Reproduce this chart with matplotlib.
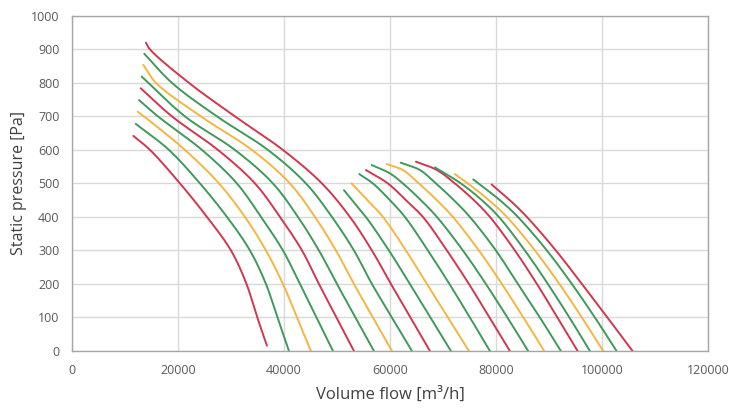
import matplotlib.pyplot as plt
import numpy as np

# fan curves (flow in m3/h, pressure in Pa)
flows = [
    [11570, 14720, 20380, 25470, 30000, 32930, 34960, 36790],
    [12020, 18300, 24150, 29250, 33580, 36600, 38770, 40940],
    [12400, 13580, 21320, 27740, 32640, 36600, 39810, 42450, 45090],
    [12640, 16230, 24530, 31120, 35660, 39810, 43020, 46140, 49250],
    [12960, 18870, 27550, 34530, 39250, 43400, 46600, 49910, 53210],
    [13150, 21320, 30750, 37920, 42640, 46600, 50000, 53490, 56980],
    [13450, 15850, 24340, 33960, 41130, 45850, 49810, 53210, 56790, 60380],
    [13640, 18870, 27360, 36980, 44150, 49060, 53210, 56600, 60380, 64150],
    [13960, 14720, 22080, 30760, 39810, 47170, 52450, 56600, 60190, 63870, 67550],
    [51320, 53400, 55470, 59810, 63770, 67640, 71510],
    [52770, 55750, 58680, 63020, 66980, 70940, 74910],
    [54210, 56790, 60000, 62830, 67170, 71230, 75090, 78870],
    [55470, 59620, 63020, 66230, 70750, 74910, 78770, 82640],
    [56550, 60000, 62450, 65850, 68870, 73770, 78110, 82170, 86090],
    [59380, 62450, 65470, 68870, 71890, 76790, 81130, 85190, 89110],
    [62020, 65660, 68680, 72080, 75090, 80000, 84150, 88300, 92260],
    [64910, 68870, 72260, 75850, 78870, 83580, 87740, 91600, 95420],
    [68490, 73400, 77360, 80570, 85470, 89810, 93870, 97740],
    [72260, 74720, 78680, 82080, 87360, 91980, 96230, 100250],
    [75720, 76700, 80760, 84150, 89620, 94340, 98680, 102770],
    [79190, 82640, 85850, 91320, 96230, 101040, 105790],
]
pressures = [
    [642, 600, 500, 400, 300, 200, 100, 16],
    [678, 600, 500, 400, 300, 200, 100, 0],
    [714, 700, 600, 500, 400, 300, 200, 100, 0],
    [749, 700, 600, 500, 400, 300, 200, 100, 0],
    [784, 700, 600, 500, 400, 300, 200, 100, 0],
    [819, 700, 600, 500, 400, 300, 200, 100, 0],
    [854, 800, 700, 600, 500, 400, 300, 200, 100, 0],
    [887, 800, 700, 600, 500, 400, 300, 200, 100, 0],
    [920, 900, 800, 700, 600, 500, 400, 300, 200, 100, 0],
    [480, 440, 400, 300, 200, 100, 0],
    [500, 450, 400, 300, 200, 100, 0],
    [528, 500, 450, 400, 300, 200, 100, 0],
    [540, 500, 450, 400, 300, 200, 100, 0],
    [555, 530, 500, 450, 400, 300, 200, 100, 0],
    [558, 540, 500, 450, 400, 300, 200, 100, 0],
    [562, 540, 500, 450, 400, 300, 200, 100, 0],
    [565, 540, 500, 450, 400, 300, 200, 100, 0],
    [548, 500, 450, 400, 300, 200, 100, 0],
    [528, 500, 450, 400, 300, 200, 100, 0],
    [512, 500, 450, 400, 300, 200, 100, 0],
    [497, 450, 400, 300, 200, 100, 0],
]
colour_cycle = ["#d1374f", "#3f9a5a", "#f5b640", "#3f9a5a"]

x_ticks = [0, 20000, 40000, 60000, 80000, 100000, 120000]
y_ticks = list(range(0, 1001, 100))
X_MAX, Y_MAX = 120000, 1000


def smooth(q, p, n=24):
    # centripetal catmull-rom, like a "smoothed line" in a spreadsheet chart
    sx, sy = 636 / X_MAX, 335 / Y_MAX
    P = np.column_stack([np.asarray(q) * sx, np.asarray(p) * sy])
    P = np.vstack([2 * P[0] - P[1], P, 2 * P[-1] - P[-2]])
    parts = []
    for i in range(len(P) - 3):
        p0, p1, p2, p3 = P[i:i + 4]
        t0 = 0.0
        t1 = t0 + np.linalg.norm(p1 - p0) ** 0.5
        t2 = t1 + np.linalg.norm(p2 - p1) ** 0.5
        t3 = t2 + np.linalg.norm(p3 - p2) ** 0.5
        t = np.linspace(t1, t2, n)[:, None]
        a1 = (t1 - t) / (t1 - t0) * p0 + (t - t0) / (t1 - t0) * p1
        a2 = (t2 - t) / (t2 - t1) * p1 + (t - t1) / (t2 - t1) * p2
        a3 = (t3 - t) / (t3 - t2) * p2 + (t - t2) / (t3 - t2) * p3
        b1 = (t2 - t) / (t2 - t0) * a1 + (t - t0) / (t2 - t0) * a2
        b2 = (t3 - t) / (t3 - t1) * a2 + (t - t1) / (t3 - t1) * a3
        c = (t2 - t) / (t2 - t1) * b1 + (t - t1) / (t2 - t1) * b2
        parts.append(c if i == 0 else c[1:])
    c = np.vstack(parts)
    return c[:, 0] / sx, c[:, 1] / sy


plt.rcParams["font.family"] = ["Open Sans", "DejaVu Sans"]

fig = plt.figure(figsize=(7.29, 4.08), dpi=100)
ax = fig.add_axes([0.0988, 0.1397, 0.8722, 0.8213])

for i, (q, p) in enumerate(zip(flows, pressures)):
    xs, ys = smooth(q, p)
    ax.plot(xs, ys, color=colour_cycle[i % 4], lw=1.4, solid_capstyle="round")

ax.set_xlim(0, X_MAX)
ax.set_ylim(0, Y_MAX)
ax.set_xticks(x_ticks)
ax.set_xticklabels([str(v) for v in x_ticks])
ax.set_yticks(y_ticks)
ax.grid(True, color="#d9d9d9", lw=1)
ax.set_axisbelow(True)
for s in ax.spines.values():
    s.set_color("#a6a6a6")
    s.set_linewidth(1)
ax.tick_params(axis="both", length=0, labelsize=9, colors="#595959")
ax.tick_params(axis="x", pad=9)
ax.tick_params(axis="y", pad=9)

ax.set_xlabel("Volume flow [m³/h]", fontsize=12, color="#404040", labelpad=7)
ax.set_ylabel("Static pressure [Pa]", fontsize=11.5, color="#404040", labelpad=3)

fig.savefig("out.png", dpi=100)
